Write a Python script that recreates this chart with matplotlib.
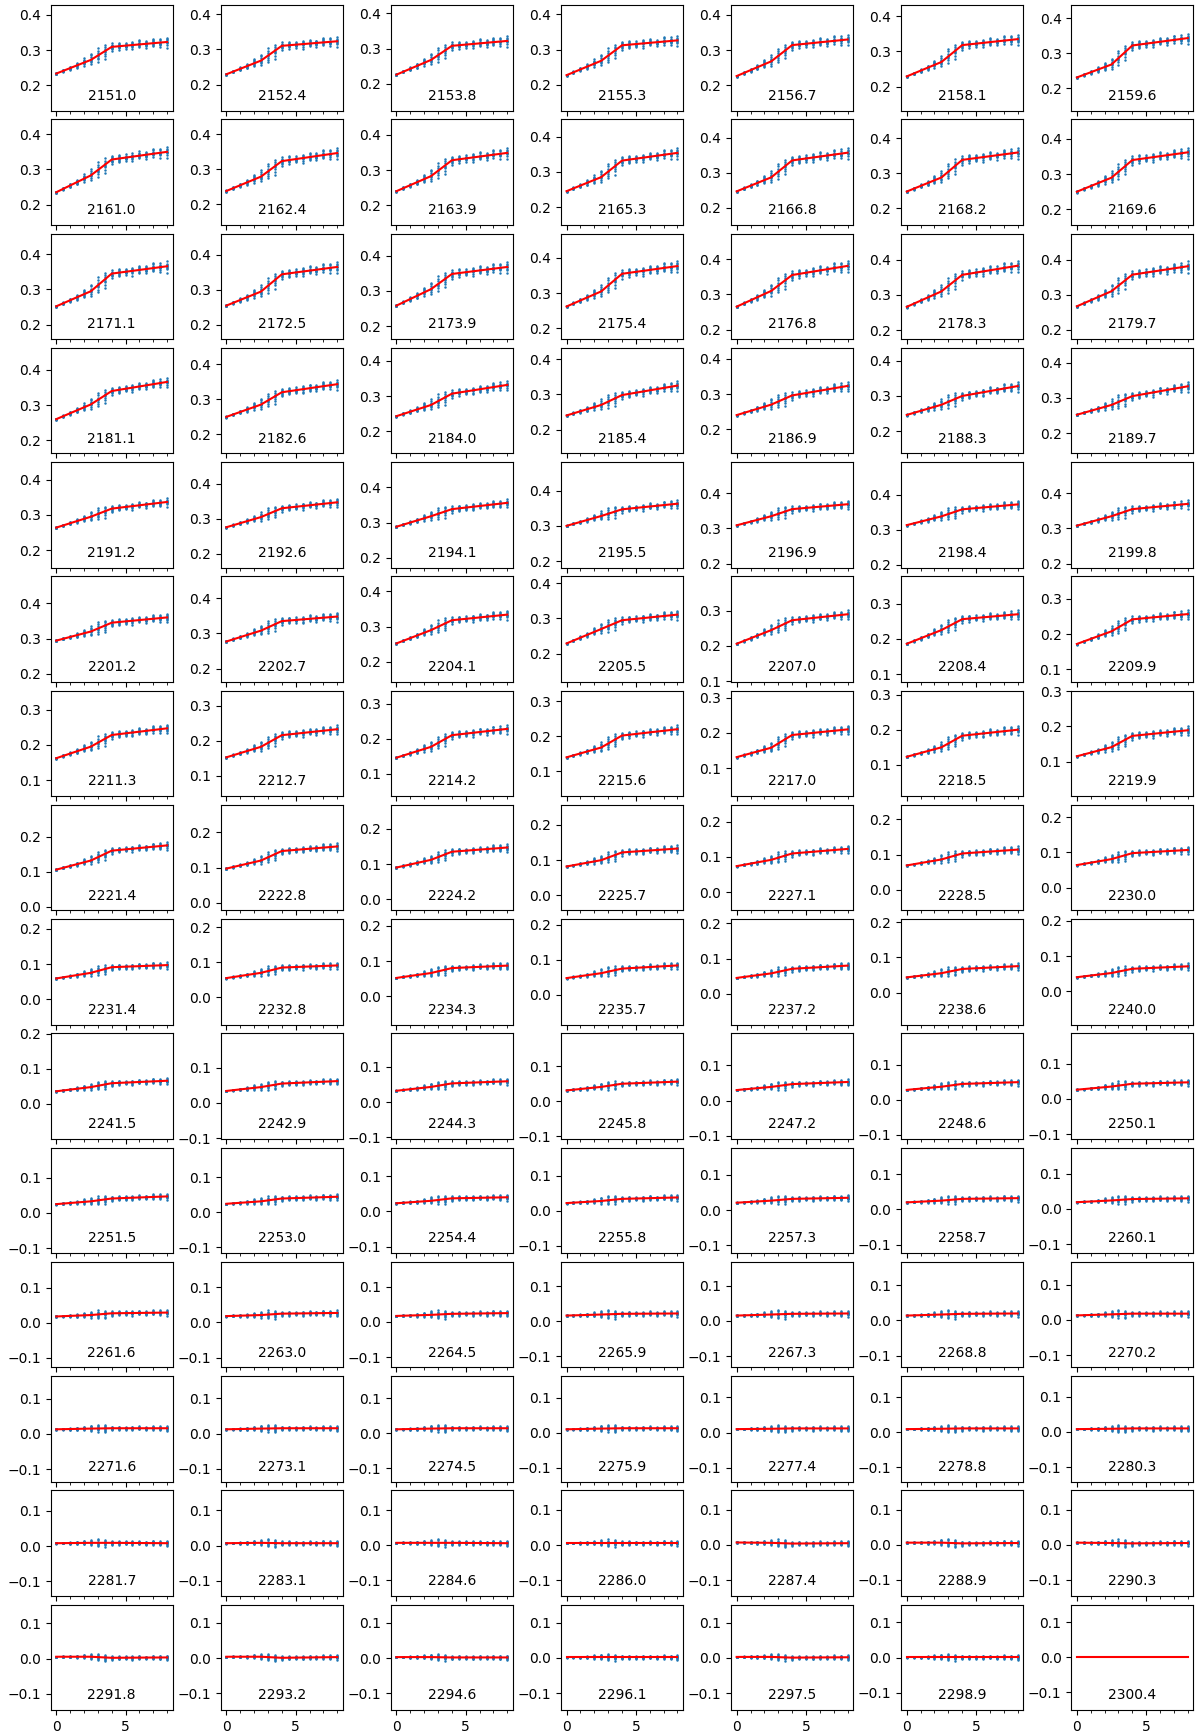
import numpy as np
import matplotlib
matplotlib.use("Agg")
import matplotlib.pyplot as plt
from matplotlib.ticker import AutoMinorLocator, MultipleLocator


# wavelength of each panel, one list per row of the grid
WAVELENGTHS = [
    [2151.0, 2152.4, 2153.8, 2155.3, 2156.7, 2158.1, 2159.6],
    [2161.0, 2162.4, 2163.9, 2165.3, 2166.8, 2168.2, 2169.6],
    [2171.1, 2172.5, 2173.9, 2175.4, 2176.8, 2178.3, 2179.7],
    [2181.1, 2182.6, 2184.0, 2185.4, 2186.9, 2188.3, 2189.7],
    [2191.2, 2192.6, 2194.1, 2195.5, 2196.9, 2198.4, 2199.8],
    [2201.2, 2202.7, 2204.1, 2205.5, 2207.0, 2208.4, 2209.9],
    [2211.3, 2212.7, 2214.2, 2215.6, 2217.0, 2218.5, 2219.9],
    [2221.4, 2222.8, 2224.2, 2225.7, 2227.1, 2228.5, 2230.0],
    [2231.4, 2232.8, 2234.3, 2235.7, 2237.2, 2238.6, 2240.0],
    [2241.5, 2242.9, 2244.3, 2245.8, 2247.2, 2248.6, 2250.1],
    [2251.5, 2253.0, 2254.4, 2255.8, 2257.3, 2258.7, 2260.1],
    [2261.6, 2263.0, 2264.5, 2265.9, 2267.3, 2268.8, 2270.2],
    [2271.6, 2273.1, 2274.5, 2275.9, 2277.4, 2278.8, 2280.3],
    [2281.7, 2283.1, 2284.6, 2286.0, 2287.4, 2288.9, 2290.3],
    [2291.8, 2293.2, 2294.6, 2296.1, 2297.5, 2298.9, 2300.4],
]

# fitted curve (red) at the knots x = 0, 2.5, 4, 8
KNOT_X = [0.0, 2.5, 4.0, 8.0]

Y_START = [
    [0.233, 0.229, 0.226, 0.227, 0.226, 0.229, 0.231],
    [0.235, 0.238, 0.240, 0.245, 0.247, 0.248, 0.250],
    [0.252, 0.255, 0.258, 0.262, 0.265, 0.266, 0.267],
    [0.260, 0.250, 0.243, 0.240, 0.240, 0.246, 0.252],
    [0.264, 0.276, 0.288, 0.300, 0.309, 0.313, 0.308],
    [0.294, 0.277, 0.252, 0.229, 0.206, 0.186, 0.172],
    [0.162, 0.153, 0.146, 0.140, 0.131, 0.123, 0.115],
    [0.106, 0.097, 0.090, 0.082, 0.074, 0.069, 0.064],
    [0.059, 0.055, 0.052, 0.048, 0.045, 0.043, 0.040],
    [0.036, 0.034, 0.032, 0.031, 0.030, 0.028, 0.026],
    [0.025, 0.024, 0.023, 0.022, 0.021, 0.020, 0.019],
    [0.018, 0.018, 0.017, 0.016, 0.015, 0.014, 0.013],
    [0.013, 0.012, 0.011, 0.010, 0.010, 0.009, 0.008],
    [0.008, 0.007, 0.007, 0.006, 0.007, 0.006, 0.006],
    [0.005, 0.004, 0.003, 0.002, 0.003, 0.001, 0.000],
]

Y_MID = [
    [0.272, 0.268, 0.268, 0.268, 0.268, 0.270, 0.268],
    [0.283, 0.279, 0.283, 0.285, 0.287, 0.288, 0.290],
    [0.295, 0.295, 0.305, 0.305, 0.310, 0.310, 0.310],
    [0.302, 0.285, 0.275, 0.270, 0.270, 0.275, 0.280],
    [0.295, 0.305, 0.318, 0.328, 0.335, 0.338, 0.335],
    [0.320, 0.308, 0.290, 0.270, 0.245, 0.225, 0.208],
    [0.195, 0.183, 0.177, 0.168, 0.158, 0.150, 0.141],
    [0.132, 0.120, 0.112, 0.100, 0.092, 0.086, 0.081],
    [0.075, 0.070, 0.066, 0.062, 0.058, 0.055, 0.052],
    [0.048, 0.045, 0.043, 0.041, 0.039, 0.037, 0.035],
    [0.033, 0.031, 0.030, 0.028, 0.027, 0.025, 0.024],
    [0.022, 0.021, 0.020, 0.019, 0.018, 0.017, 0.016],
    [0.015, 0.014, 0.013, 0.012, 0.011, 0.010, 0.009],
    [0.009, 0.008, 0.007, 0.006, 0.006, 0.006, 0.005],
    [0.005, 0.004, 0.003, 0.002, 0.003, 0.001, 0.000],
]

Y_KNEE = [
    [0.309, 0.310, 0.308, 0.312, 0.314, 0.318, 0.322],
    [0.328, 0.323, 0.328, 0.332, 0.335, 0.338, 0.340],
    [0.345, 0.344, 0.348, 0.355, 0.355, 0.357, 0.357],
    [0.340, 0.320, 0.307, 0.298, 0.296, 0.300, 0.305],
    [0.318, 0.330, 0.338, 0.347, 0.355, 0.358, 0.355],
    [0.345, 0.335, 0.318, 0.295, 0.273, 0.256, 0.242],
    [0.228, 0.216, 0.210, 0.202, 0.194, 0.183, 0.173],
    [0.160, 0.147, 0.135, 0.122, 0.110, 0.103, 0.098],
    [0.091, 0.085, 0.080, 0.075, 0.071, 0.067, 0.064],
    [0.059, 0.055, 0.053, 0.050, 0.047, 0.045, 0.043],
    [0.041, 0.039, 0.037, 0.034, 0.032, 0.030, 0.028],
    [0.027, 0.025, 0.023, 0.021, 0.020, 0.019, 0.018],
    [0.016, 0.015, 0.014, 0.013, 0.012, 0.011, 0.010],
    [0.009, 0.007, 0.007, 0.006, 0.004, 0.004, 0.004],
    [0.002, 0.001, 0.002, 0.002, 0.001, 0.001, 0.000],
]

Y_END = [
    [0.323, 0.323, 0.322, 0.326, 0.330, 0.335, 0.343],
    [0.350, 0.346, 0.349, 0.354, 0.357, 0.359, 0.362],
    [0.366, 0.365, 0.368, 0.377, 0.381, 0.383, 0.381],
    [0.366, 0.343, 0.332, 0.325, 0.323, 0.328, 0.333],
    [0.337, 0.347, 0.356, 0.363, 0.369, 0.372, 0.370],
    [0.360, 0.348, 0.334, 0.311, 0.290, 0.270, 0.257],
    [0.247, 0.233, 0.228, 0.220, 0.210, 0.200, 0.189],
    [0.175, 0.160, 0.147, 0.133, 0.123, 0.114, 0.107],
    [0.097, 0.091, 0.087, 0.084, 0.080, 0.075, 0.071],
    [0.066, 0.062, 0.059, 0.056, 0.053, 0.050, 0.047],
    [0.047, 0.044, 0.040, 0.038, 0.035, 0.032, 0.030],
    [0.029, 0.027, 0.025, 0.022, 0.021, 0.020, 0.018],
    [0.016, 0.015, 0.014, 0.013, 0.012, 0.011, 0.010],
    [0.008, 0.007, 0.006, 0.006, 0.005, 0.005, 0.005],
    [0.003, 0.003, 0.002, 0.002, 0.002, 0.001, 0.000],
]

# measurement steps and the scatter of the samples around the curve
X_STEPS = [0.0, 0.5, 1.0, 1.5, 2.0, 2.5, 3.0, 3.5, 4.0,
           4.5, 5.0, 5.5, 6.0, 6.5, 7.0, 7.5, 8.0]

SAMPLE_OFFSETS = [
    [-0.10, -0.05, 0.00, 0.02, 0.05, 0.10, -0.15, 0.08],
    [-0.15, -0.10, 0.00, 0.05, 0.10, 0.15, -0.05, 0.20],
    [-0.20, -0.10, 0.00, 0.10, 0.20, 0.30, -0.30, 0.05],
    [-0.35, -0.10, 0.10, 0.30, 0.45, -0.45, 0.00, 0.20],
    [-0.60, -0.30, 0.00, 0.30, 0.60, 0.85, -0.10, 0.40],
    [-0.90, -0.50, -0.20, 0.20, 0.50, 0.90, 1.20, 0.00],
    [-1.30, -0.80, -0.40, 0.10, 0.50, 1.00, 1.50, -0.10],
    [-1.60, -1.00, -0.50, 0.00, 0.40, 0.80, 1.20, -0.20],
    [-0.90, -0.50, -0.20, 0.20, 0.40, 0.70, -0.30, 0.10],
    [-0.70, -0.40, -0.20, 0.10, 0.30, 0.50, 0.70, -0.10],
    [-0.60, -0.30, -0.10, 0.20, 0.30, 0.60, -0.20, 0.00],
    [-0.90, -0.50, -0.20, 0.00, 0.20, 0.40, 0.60, 0.10],
    [-0.50, -0.30, 0.00, 0.20, 0.30, 0.60, 0.80, -0.10],
    [-0.80, -0.40, -0.20, 0.10, 0.30, 0.50, -0.30, 0.00],
    [-0.60, -0.30, -0.10, 0.20, 0.40, 0.70, 0.90, 0.00],
    [-0.90, -0.50, -0.20, 0.00, 0.20, 0.50, 0.80, -0.20],
    [-1.20, -0.60, -0.30, 0.00, 0.30, 0.50, 0.90, -0.10],
]

# size of the sample spread, one value per row
ROW_SPREAD = [0.014, 0.015, 0.015, 0.013, 0.011, 0.012, 0.012, 0.010,
              0.009, 0.008, 0.008, 0.008, 0.007, 0.007, 0.006]

n_rows = len(WAVELENGTHS)
n_cols = len(WAVELENGTHS[0])

fig, axes = plt.subplots(n_rows, n_cols, figsize=(11.98, 17.35), dpi=100, sharex=True)
fig.subplots_adjust(left=0.0423, right=0.9961, bottom=0.0144, top=0.9971,
                    wspace=0.394, hspace=0.083)

x_steps = np.array(X_STEPS)
offsets = np.array(SAMPLE_OFFSETS)

for r in range(n_rows):
    for c in range(n_cols):
        ax = axes[r, c]
        curve = [Y_START[r][c], Y_MID[r][c], Y_KNEE[r][c], Y_END[r][c]]

        if any(curve):
            centers = np.interp(x_steps, KNOT_X, curve)
            ys = centers[:, None] + ROW_SPREAD[r] * offsets
            xs = np.repeat(x_steps[:, None], ys.shape[1], axis=1)
            ax.scatter(xs.ravel(), ys.ravel(), s=0.6, color="C0")
            ax.plot(KNOT_X, curve, color="red", lw=1.5)
        else:
            ax.plot([X_STEPS[0], X_STEPS[-1]], [0, 0], color="red", lw=1.5)

        mid = (min(curve) + max(curve)) / 2
        ax.set_ylim(mid - 0.15, mid + 0.15)
        ax.yaxis.set_major_locator(MultipleLocator(0.1))
        ax.xaxis.set_minor_locator(AutoMinorLocator())
        ax.text(0.5, 0.1, f"{WAVELENGTHS[r][c]:.1f}", ha="center",
                transform=ax.transAxes, fontsize=10)

axes[0, 0].set_xlim(-0.4, 8.4)

fig.savefig("out.png", dpi=100)
